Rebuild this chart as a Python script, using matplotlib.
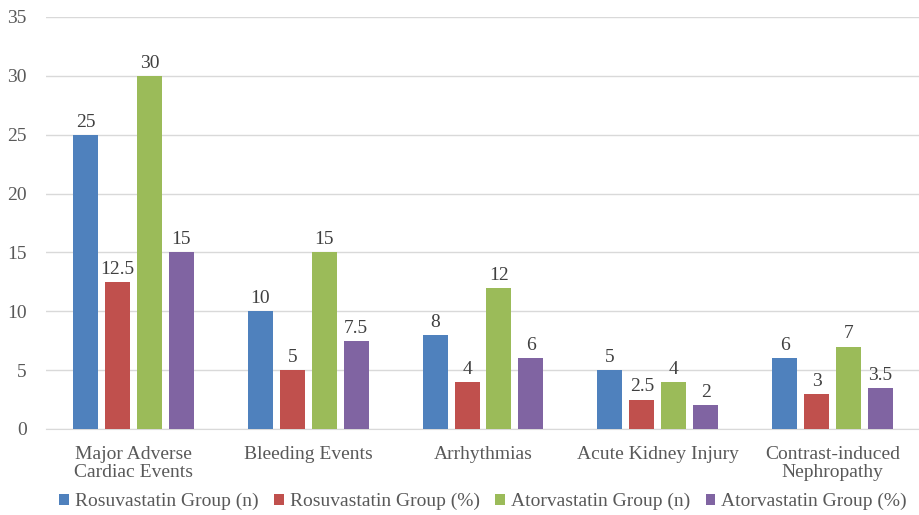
import matplotlib
matplotlib.use("Agg")
import matplotlib.pyplot as plt
import numpy as np
from matplotlib.patches import Patch
from matplotlib.font_manager import FontProperties

categories = ["Major Adverse\nCardiac Events", "Bleeding Events", "Arrhythmias",
              "Acute Kidney Injury", "Contrast-induced\nNephropathy"]
series_names = ["Rosuvastatin Group (n)", "Rosuvastatin Group (%)",
                "Atorvastatin Group (n)", "Atorvastatin Group (%)"]
rosu_n = [25, 10, 8, 5, 6]
rosu_pct = [12.5, 5, 4, 2.5, 3]
ator_n = [30, 15, 12, 4, 7]
ator_pct = [15, 7.5, 6, 2, 3.5]
colors = ["#4F81BD", "#C0504D", "#9BBB59", "#8064A2"]

FAM = 'Liberation Serif'
FS = 14
fp = FontProperties(family=FAM, size=FS)
fig = plt.figure(figsize=(9.2, 5.15), dpi=100)
ax = fig.add_axes([0.05, 0.167, 0.95, 0.80])

x = np.arange(len(categories))
bw = 0.143
stride = 0.183
all_series = [rosu_n, rosu_pct, ator_n, ator_pct]
for i, (vals, c) in enumerate(zip(all_series, colors)):
    off = (i - 1.5) * stride
    bars = ax.bar(x + off, vals, width=bw, color=c, zorder=3, label=series_names[i])
    for b, v in zip(bars, vals):
        ax.text(b.get_x() + b.get_width() / 2, v + 0.35, f"{v:g}", ha="center", va="bottom",
                family=FAM, fontsize=FS, color="#404040")

ax.set_xlim(-0.5, len(categories) - 0.5)
ax.set_ylim(0, 35)
ax.set_yticks(range(0, 36, 5))
ax.grid(axis="y", color="#D9D9D9", linewidth=1, zorder=0)
for s in ["top", "right", "left"]:
    ax.spines[s].set_visible(False)
ax.spines["bottom"].set_color("#D9D9D9")
ax.tick_params(axis="both", length=0, labelcolor="#595959")
ax.tick_params(axis="y", pad=14)
ax.tick_params(axis="x", pad=12.5)
ax.set_xticks(x)
ax.set_xticklabels(categories, linespacing=1.05, family=FAM, fontsize=FS)
ax.set_yticklabels([str(v) for v in range(0, 36, 5)], family=FAM, fontsize=FS)

handles = [Patch(facecolor=c, label=n) for c, n in zip(colors, series_names)]
fig.legend(handles=handles, loc="lower center", bbox_to_anchor=(0.525, -0.025), ncol=4,
           frameon=False, prop=fp, handlelength=0.5, handleheight=0.5,
           handletextpad=0.3, columnspacing=0.8, labelcolor="#595959")

fig.savefig("out.png", dpi=100)
